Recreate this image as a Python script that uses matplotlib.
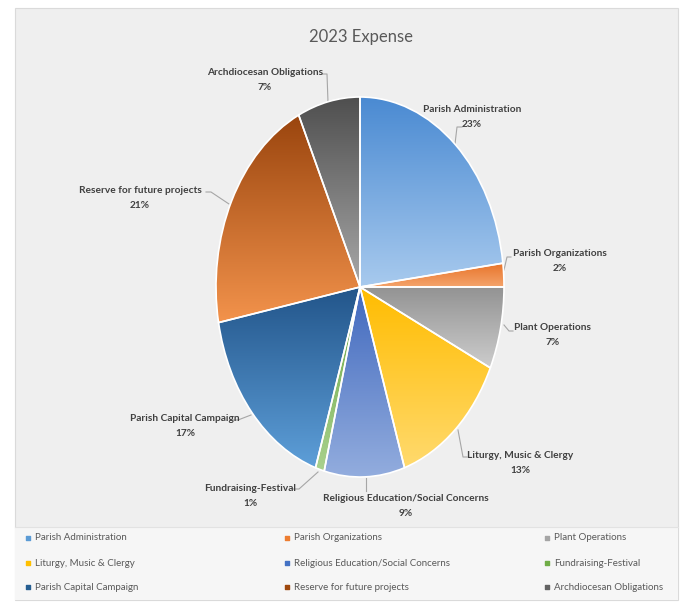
import numpy as np
import matplotlib.pyplot as plt
from matplotlib.patches import Rectangle
from matplotlib.colors import LinearSegmentedColormap

plt.rcParams['font.family'] = ['Lato', 'DejaVu Sans']

# data
categories = ["Parish Administration", "Parish Organizations", "Plant Operations",
              "Liturgy, Music & Clergy", "Religious Education/Social Concerns",
              "Fundraising-Festival", "Parish Capital Campaign",
              "Reserve for future projects", "Archdiocesan Obligations"]
shares = [23, 2, 7, 13, 9, 1, 17, 21, 7]

# gradient fills (top colour, bottom colour) like the Excel slices
top_colors = ["#4A8AD2", "#E8742A", "#939393", "#FFBC00", "#4169BE",
              "#68A540", "#22558A", "#9A450E", "#4F4F4F"]
bot_colors = ["#A8CAEE", "#F4A36B", "#CDCDCD", "#FFDA6E", "#93ADDE",
              "#A9D18E", "#5E9FD9", "#F3934C", "#A8A8A8"]
legend_colors = ["#5B9BD5", "#ED7D31", "#A5A5A5", "#FFC000", "#4472C4",
                 "#70AD47", "#255E91", "#9E480E", "#636363"]

W, H = 685, 605
fig = plt.figure(figsize=(W / 100, H / 100), dpi=100)
fig.patch.set_facecolor('white')

bg = fig.add_axes([0, 0, 1, 1])
bg.set_xlim(0, W)
bg.set_ylim(H, 0)
bg.axis('off')
bg.add_patch(Rectangle((15, 8), 663, 592, fc='#EFEFEF', ec='#DADADA', lw=0.8, zorder=0))
bg.add_patch(Rectangle((15, 527), 663, 73, fc='#F6F6F6', ec='none', zorder=0.1))
bg.plot([15, 678], [527, 527], color='#E2E2E2', lw=0.8, zorder=0.2)

bg.text(361, 37, "2023 Expense", ha='center', va='center', fontsize=12, color='#595959')

# pie: Excel's circle got stretched into an ellipse in the screenshot
cx, cy, rx, ry = 360, 287, 144, 190
axp = fig.add_axes([(cx - rx) / W, (H - cy - ry) / H, 2 * rx / W, 2 * ry / H])
wedges, _ = axp.pie(shares, startangle=90, counterclock=False,
                    wedgeprops=dict(edgecolor='white', linewidth=1.2))
grad = np.linspace(0, 1, 256).reshape(-1, 1)
for w, top, bot in zip(wedges, top_colors, bot_colors):
    verts = w.get_path().vertices
    x0, y0 = verts.min(axis=0)
    x1, y1 = verts.max(axis=0)
    cmap = LinearSegmentedColormap.from_list('g', [bot, top])
    im = axp.imshow(grad, extent=(x0, x1, y0, y1), origin='lower', cmap=cmap,
                    aspect='auto', zorder=0.5, interpolation='bilinear')
    im.set_clip_path(w)
    w.set_facecolor('none')
axp.set_aspect('auto')
axp.set_xlim(-1, 1)
axp.set_ylim(-1, 1)
axp.axis('off')

# data labels and leader lines (pixel layout)
label_pos = [(472, 117), (560, 261), (553, 335), (520, 463), (406, 506),
             (250, 496), (185, 426), (140, 198), (265, 80)]
leaders = [
    [(462, 127), (457, 127), (455, 144)],
    [(511, 257), (507, 257), (504, 270)],
    [(513, 331), (509, 331), (504, 325)],
    [(467, 457), (463, 457), (458, 430)],
    [(366, 491), (366, 486), (366, 478)],
    [(293, 489), (299, 489), (318, 472)],
    [(232, 420), (238, 420), (251, 415)],
    [(206, 192), (211, 192), (229, 204)],
    [(322, 74), (327, 74), (328, 102)],
]
for name, v, (tx, ty), pts in zip(categories, shares, label_pos, leaders):
    bg.text(tx, ty, f"{name}\n{v}%", ha='center', va='center', fontsize=7.3,
            fontweight='bold', color='#404040', linespacing=1.75, zorder=3)
    xs, ys = zip(*pts)
    bg.plot(xs, ys, color='#A6A6A6', lw=0.8, zorder=2)

# legend, three columns filled row by row
col_x = [28, 287, 547]
row_y = [538, 563, 587]
for i, (name, c) in enumerate(zip(categories, legend_colors)):
    x = col_x[i % 3]
    y = row_y[i // 3]
    bg.scatter([x], [y], marker='s', s=6, color=c, zorder=3)
    bg.text(x + 7, y, name, ha='left', va='center', fontsize=7, color='#595959', zorder=3)

fig.savefig('out.png', dpi=100, facecolor='white')
